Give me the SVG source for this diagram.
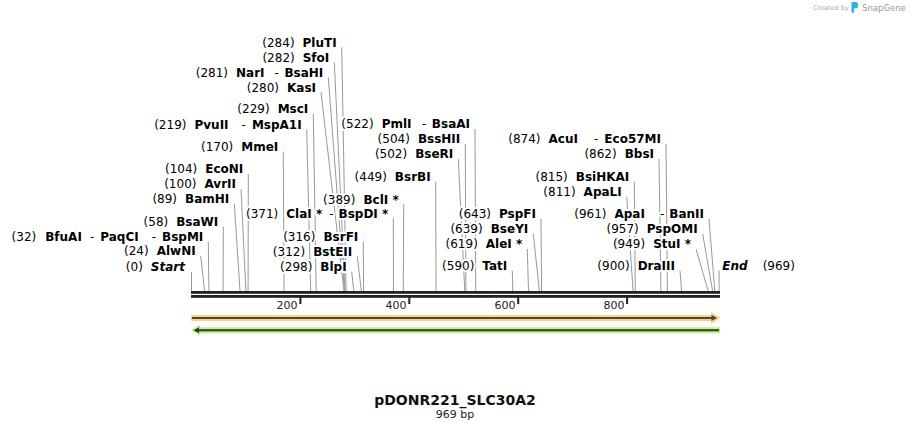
<svg xmlns="http://www.w3.org/2000/svg" width="911" height="430" viewBox="0 0 911 430">
<style>
text{font-family:"DejaVu Sans",Verdana,sans-serif;}
.l{font-size:12px;fill:#000;text-anchor:end;paint-order:stroke;stroke:#fff;stroke-width:4px;stroke-linejoin:round;}
.s{text-anchor:start;}
.b{font-weight:bold;}
.bi{font-weight:bold;font-style:italic;}
.c line{stroke:#999;stroke-width:1;}
.tk{font-size:11px;fill:#222;text-anchor:end;}
</style>
<rect width="911" height="430" fill="#fff"/>
<g id="watermark">
<text x="813" y="10" font-size="6.5" fill="#aaa">Created by</text>
<path d="M851.5 2 h3.5 a3.2 3.2 0 0 1 0 6.4 h-1 v5 l-2.5 -1.5 z" fill="#33aee8"/>
<text x="862" y="11" font-size="8.5" fill="#999">SnapGene</text>
</g>
<g class="c" id="connectors">
<line x1="191.5" y1="272" x2="191.5" y2="291"/>
<line x1="200.7" y1="256" x2="204.6" y2="291"/>
<line x1="208.3" y1="241.7" x2="208.9" y2="291"/>
<line x1="223.3" y1="226.7" x2="223.1" y2="291"/>
<line x1="234.3" y1="203.7" x2="240.0" y2="291"/>
<line x1="241" y1="189" x2="245.9" y2="291"/>
<line x1="248.3" y1="174" x2="248.1" y2="291"/>
<line x1="283.3" y1="151.7" x2="284.1" y2="291"/>
<line x1="306.7" y1="129.3" x2="310.7" y2="291"/>
<line x1="313.3" y1="114" x2="316.2" y2="291"/>
<line x1="321" y1="92.3" x2="344.0" y2="291"/>
<line x1="328.3" y1="77.3" x2="344.5" y2="291"/>
<line x1="334.3" y1="62.3" x2="345.0" y2="291"/>
<line x1="341.7" y1="47.3" x2="346.1" y2="291"/>
<line x1="351.7" y1="271.7" x2="353.8" y2="291"/>
<line x1="357.3" y1="256.3" x2="361.4" y2="291"/>
<line x1="363.3" y1="241.7" x2="363.6" y2="291"/>
<line x1="393.3" y1="218.3" x2="393.5" y2="291"/>
<line x1="403.7" y1="204.3" x2="403.3" y2="291"/>
<line x1="435.7" y1="181.7" x2="436.0" y2="291"/>
<line x1="458.3" y1="159" x2="464.8" y2="291"/>
<line x1="465.3" y1="144" x2="465.9" y2="291"/>
<line x1="475" y1="129" x2="475.7" y2="291"/>
<line x1="512.3" y1="270.7" x2="512.8" y2="291"/>
<line x1="527.3" y1="249" x2="528.5" y2="291"/>
<line x1="533.3" y1="234" x2="539.4" y2="291"/>
<line x1="541" y1="219" x2="541.6" y2="291"/>
<line x1="626.7" y1="196.7" x2="633.1" y2="291"/>
<line x1="634.3" y1="181.7" x2="635.3" y2="291"/>
<line x1="659" y1="159" x2="660.9" y2="291"/>
<line x1="666" y1="144" x2="667.4" y2="291"/>
<line x1="680" y1="270.7" x2="681.6" y2="291"/>
<line x1="696" y1="249" x2="708.2" y2="291"/>
<line x1="702.7" y1="234" x2="712.6" y2="291"/>
<line x1="709" y1="219" x2="714.8" y2="291"/>
<line x1="719.1" y1="270.7" x2="719.1" y2="291"/>
</g>
<g id="backbone">
<rect x="191" y="291" width="529" height="2.8" fill="#222"/>
<rect x="191" y="295" width="529" height="2.8" fill="#222"/>
<g fill="#222">
<rect x="299.4" y="297" width="2" height="7"/>
<rect x="408.3" y="297" width="2" height="7"/>
<rect x="517.2" y="297" width="2" height="7"/>
<rect x="626.1" y="297" width="2" height="7"/>
</g>
<text class="tk" x="297.5" y="309">200</text>
<text class="tk" x="406.5" y="309">400</text>
<text class="tk" x="515.5" y="309">600</text>
<text class="tk" x="624.5" y="309">800</text>
</g>
<g id="feature-forward">
<rect x="191" y="315" width="521" height="6" fill="#fdd283"/>
<polygon points="711,312 720.5,318 711,324" fill="#fdd283"/>
<line x1="192" y1="318" x2="713" y2="318" stroke="#4a4a40" stroke-width="2"/>
<polygon points="711.5,315 717,318 711.5,321" fill="#4a4a40"/>
</g>
<g id="feature-reverse">
<rect x="199" y="327.3" width="521" height="6" fill="#b6f288"/>
<polygon points="191,330.3 200,325 200,335.6" fill="#b6f288"/>
<line x1="197" y1="330.3" x2="719" y2="330.3" stroke="#333a30" stroke-width="2"/>
<polygon points="193.5,330.3 199,327.3 199,333.3" fill="#333a30"/>
</g>
<g id="site-Start"><text class="l" x="185" y="271.1"><tspan>(0)</tspan><tspan class="bi" dx="8">Start</tspan></text></g>
<g id="site-AlwNI"><text class="l" x="195.7" y="255.4"><tspan>(24)</tspan><tspan class="b" dx="8">AlwNI</tspan></text></g>
<g id="site-BfuAI"><text class="l" x="203.3" y="241.1"><tspan>(32)</tspan><tspan class="b" dx="9">BfuAI</tspan><tspan dx="8">-</tspan><tspan class="b" dx="6">PaqCI</tspan><tspan dx="13">-</tspan><tspan class="b" dx="6">BspMI</tspan></text></g>
<g id="site-BsaWI"><text class="l" x="218.3" y="226.1"><tspan>(58)</tspan><tspan class="b" dx="8">BsaWI</tspan></text></g>
<g id="site-BamHI"><text class="l" x="229.3" y="203.1"><tspan>(89)</tspan><tspan class="b" dx="8">BamHI</tspan></text></g>
<g id="site-AvrII"><text class="l" x="236" y="188.4"><tspan>(100)</tspan><tspan class="b" dx="8">AvrII</tspan></text></g>
<g id="site-EcoNI"><text class="l" x="243.3" y="173.4"><tspan>(104)</tspan><tspan class="b" dx="8">EcoNI</tspan></text></g>
<g id="site-MmeI"><text class="l" x="278.3" y="151.1"><tspan>(170)</tspan><tspan class="b" dx="8">MmeI</tspan></text></g>
<g id="site-PvuII"><text class="l" x="301.7" y="128.7"><tspan>(219)</tspan><tspan class="b" dx="8">PvuII</tspan><tspan dx="13">-</tspan><tspan class="b" dx="6">MspA1I</tspan></text></g>
<g id="site-MscI"><text class="l" x="308.3" y="113.4"><tspan>(229)</tspan><tspan class="b" dx="8">MscI</tspan></text></g>
<g id="site-KasI"><text class="l" x="316" y="91.7"><tspan>(280)</tspan><tspan class="b" dx="8">KasI</tspan></text></g>
<g id="site-NarI"><text class="l" x="323.3" y="76.7"><tspan>(281)</tspan><tspan class="b" dx="8">NarI</tspan><tspan dx="10">-</tspan><tspan class="b" dx="5.5">BsaHI</tspan></text></g>
<g id="site-SfoI"><text class="l" x="329.3" y="61.7"><tspan>(282)</tspan><tspan class="b" dx="8">SfoI</tspan></text></g>
<g id="site-PluTI"><text class="l" x="336.7" y="46.7"><tspan>(284)</tspan><tspan class="b" dx="8">PluTI</tspan></text></g>
<g id="site-BlpI"><text class="l" x="346.7" y="271.1"><tspan>(298)</tspan><tspan class="b" dx="8">BlpI</tspan></text></g>
<g id="site-BstEII"><text class="l" x="352.3" y="255.7"><tspan>(312)</tspan><tspan class="b" dx="8">BstEII</tspan></text></g>
<g id="site-BsrFI"><text class="l" x="358.3" y="241.1"><tspan>(316)</tspan><tspan class="b" dx="8">BsrFI</tspan></text></g>
<g id="site-ClaI"><text class="l" x="388.3" y="217.7"><tspan>(371)</tspan><tspan class="b" dx="8">ClaI *</tspan><tspan dx="7">-</tspan><tspan class="b" dx="5">BspDI *</tspan></text></g>
<g id="site-BclI"><text class="l" x="398.7" y="203.7"><tspan>(389)</tspan><tspan class="b" dx="8">BclI *</tspan></text></g>
<g id="site-BsrBI"><text class="l" x="430.7" y="181.1"><tspan>(449)</tspan><tspan class="b" dx="8">BsrBI</tspan></text></g>
<g id="site-BseRI"><text class="l" x="453.3" y="158.4"><tspan>(502)</tspan><tspan class="b" dx="8">BseRI</tspan></text></g>
<g id="site-BssHII"><text class="l" x="460.3" y="143.4"><tspan>(504)</tspan><tspan class="b" dx="8">BssHII</tspan></text></g>
<g id="site-PmlI"><text class="l" x="470" y="128.4"><tspan>(522)</tspan><tspan class="b" dx="8">PmlI</tspan><tspan dx="10.5">-</tspan><tspan class="b" dx="5.5">BsaAI</tspan></text></g>
<g id="site-TatI"><text class="l" x="507.3" y="270.1"><tspan>(590)</tspan><tspan class="b" dx="8">TatI</tspan></text></g>
<g id="site-AleI"><text class="l" x="522.3" y="248.4"><tspan>(619)</tspan><tspan class="b" dx="8">AleI *</tspan></text></g>
<g id="site-BseYI"><text class="l" x="528.3" y="233.4"><tspan>(639)</tspan><tspan class="b" dx="8">BseYI</tspan></text></g>
<g id="site-PspFI"><text class="l" x="536" y="218.4"><tspan>(643)</tspan><tspan class="b" dx="8">PspFI</tspan></text></g>
<g id="site-ApaLI"><text class="l" x="621.7" y="196.1"><tspan>(811)</tspan><tspan class="b" dx="8">ApaLI</tspan></text></g>
<g id="site-BsiHKAI"><text class="l" x="629.3" y="181.1"><tspan>(815)</tspan><tspan class="b" dx="8">BsiHKAI</tspan></text></g>
<g id="site-BbsI"><text class="l" x="654" y="158.4"><tspan>(862)</tspan><tspan class="b" dx="8">BbsI</tspan></text></g>
<g id="site-AcuI"><text class="l" x="661" y="143.4"><tspan>(874)</tspan><tspan class="b" dx="8">AcuI</tspan><tspan dx="16">-</tspan><tspan class="b" dx="6">Eco57MI</tspan></text></g>
<g id="site-DraIII"><text class="l" x="675" y="270.1"><tspan>(900)</tspan><tspan class="b" dx="8">DraIII</tspan></text></g>
<g id="site-StuI"><text class="l" x="691" y="248.4"><tspan>(949)</tspan><tspan class="b" dx="8">StuI *</tspan></text></g>
<g id="site-PspOMI"><text class="l" x="697.7" y="233.4"><tspan>(957)</tspan><tspan class="b" dx="8">PspOMI</tspan></text></g>
<g id="site-ApaI"><text class="l" x="704" y="218.4"><tspan>(961)</tspan><tspan class="b" dx="8">ApaI</tspan><tspan dx="15">-</tspan><tspan class="b" dx="5">BanII</tspan></text></g>
<g id="site-End"><text class="l s" x="722.3" y="270.1"><tspan class="bi">End</tspan><tspan dx="15">(969)</tspan></text></g>
<g id="title">
<text x="455" y="405" font-size="14" font-weight="bold" text-anchor="middle" fill="#111">pDONR221_SLC30A2</text>
<text x="455" y="418" font-size="11" text-anchor="middle" fill="#222">969 bp</text>
</g>
</svg>
